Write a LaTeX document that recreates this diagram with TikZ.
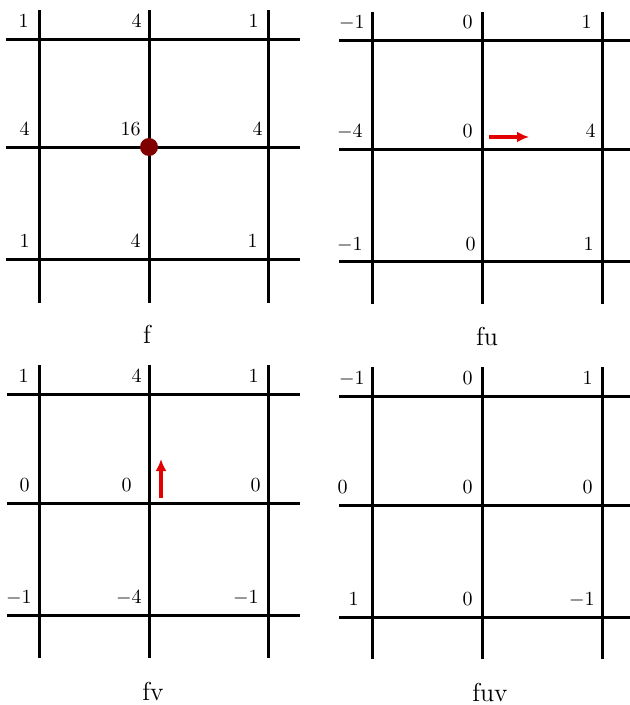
\documentclass[tikz,border=0pt]{standalone}
\usepackage{amsmath}
\usepackage{xcolor}
\usepackage{tikz}
\usetikzlibrary{arrows.meta}

\definecolor{dotred}{RGB}{128,0,0}
\definecolor{vecred}{RGB}{226,0,0}

\begin{document}
\begin{tikzpicture}[
    x=0.5pt, y=-0.5pt,
    gridline/.style={draw=black, line width=1.5pt},
    val/.style={anchor=base east, inner sep=0pt, font=\normalsize},
    caption/.style={anchor=base, inner sep=0pt, font=\fontsize{13}{15}\selectfont},
    vec/.style={draw=vecred, line width=1.6pt, -{Latex[length=6pt,width=5.5pt]}}
]
    \useasboundingbox (0,0) rectangle (630,705);

    % panel f
    \foreach \x in {39,149,268} \draw[gridline] (\x,10) -- (\x,303);
    \foreach \y in {40,148,260} \draw[gridline] (6,\y) -- (300,\y);
    \foreach \x/\y/\d/\v [count=\i] in {39/40/10/1, 149/40/7/4, 268/40/9/1,
        39/148/9/4, 149/148/8/16, 268/148/5/4,
        39/260/9/1, 149/260/8/4, 268/260/10/1}
        \node[val] (f\i) at (\x-\d,\y-12) {$\v$};
    \node[circle, fill=dotred, minimum size=9pt, inner sep=0pt] (dot) at (149,147) {};
    \node[caption] (capf) at (147,343) {f};

    % panel fu
    \foreach \x in {372,482,602} \draw[gridline] (\x,12) -- (\x,304);
    \foreach \y in {41,150,262} \draw[gridline] (339,\y) -- (630,\y);
    \foreach \x/\y/\d/\v [count=\i] in {372/41/7/-1, 482/41/9/0, 602/41/10/1,
        372/150/9/-4, 482/150/9/0, 602/150/6/4,
        372/262/9/-1, 482/262/6/0, 602/262/8/1}
        \node[val] (fu\i) at (\x-\d,\y-12) {$\v$};
    \coordinate (u0) at (489,137);
    \coordinate (u1) at (529,137);
    \draw[vec] (u0) -- (u1);
    \node[caption] (capfu) at (487,345) {fu};

    % panel fv
    \foreach \x in {39,149,268} \draw[gridline] (\x,365) -- (\x,658);
    \foreach \y in {394,503,615} \draw[gridline] (7,\y) -- (300,\y);
    \foreach \x/\y/\d/\v [count=\i] in {39/394/10/1, 149/394/7/4, 268/394/9/1,
        39/503/9/0, 149/503/17/0, 268/503/7/0,
        39/615/7/-1, 149/615/7/-4, 268/615/9/-1}
        \node[val] (fv\i) at (\x-\d,\y-12) {$\v$};
    \coordinate (v0) at (161,498);
    \coordinate (v1) at (161,459);
    \draw[vec] (v0) -- (v1);
    \node[caption] (capfv) at (153,700) {fv};

    % panel fuv
    \foreach \x in {372,482,602} \draw[gridline] (\x,367) -- (\x,659);
    \foreach \y in {396,505,617} \draw[gridline] (339,\y) -- (630,\y);
    \foreach \x/\y/\d/\v [count=\i] in {372/396/7/-1, 482/396/9/0, 602/396/9/1,
        372/505/24/0, 482/505/9/0, 602/505/9/0,
        372/617/13/1, 482/617/9/0, 602/617/7/-1}
        \node[val] (fuv\i) at (\x-\d,\y-12) {$\v$};
    \node[caption] (capfuv) at (490,701) {fuv};
\end{tikzpicture}
\end{document}
